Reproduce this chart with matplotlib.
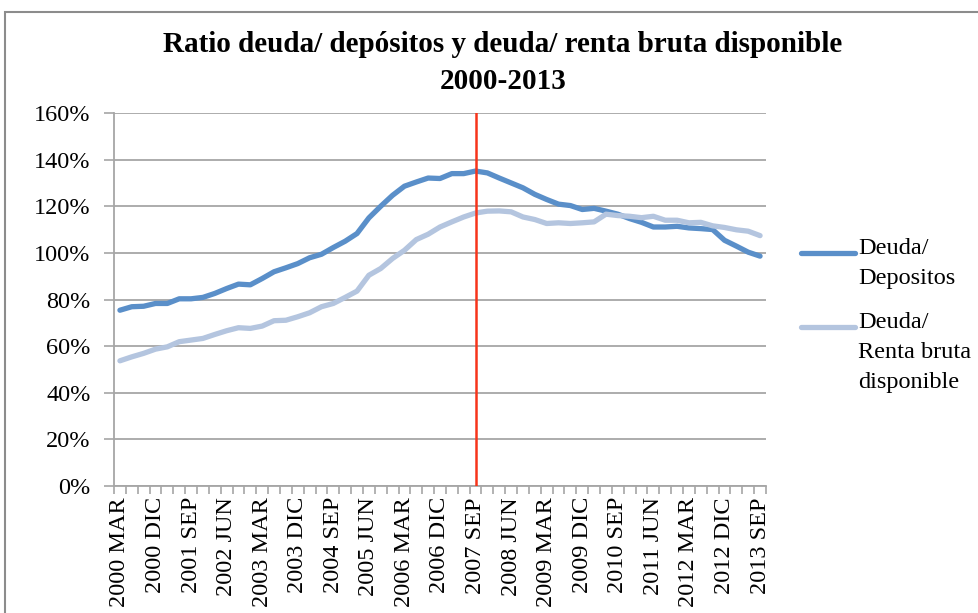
import matplotlib.pyplot as plt
import numpy as np
from matplotlib.lines import Line2D
from matplotlib.patches import Rectangle

plt.rcParams["font.family"] = ["Liberation Serif", "DejaVu Serif"]

# quarterly ratios (%), 2000 MAR .. 2013 SEP
deuda_depositos = [75.4, 76.9, 77.1, 78.3, 78.3, 80.3, 80.3, 80.9, 82.6, 84.7,
                   86.6, 86.3, 89.0, 91.9, 93.6, 95.4, 97.9, 99.4, 102.3, 105.0,
                   108.3, 115.0, 120.0, 124.7, 128.6, 130.4, 132.1, 131.9, 134.0, 134.0,
                   135.1, 134.3, 132.1, 130.0, 127.9, 125.1, 122.9, 120.9, 120.3, 118.6,
                   119.1, 117.9, 116.6, 114.7, 113.1, 111.1, 111.1, 111.4, 110.7, 110.4,
                   110.0, 105.4, 102.9, 100.3, 98.6]
deuda_renta = [53.7, 55.4, 56.9, 58.7, 59.7, 61.9, 62.6, 63.3, 65.0, 66.6,
               67.9, 67.6, 68.6, 70.9, 71.1, 72.6, 74.3, 76.9, 78.3, 80.9,
               83.6, 90.4, 93.3, 97.6, 101.1, 105.7, 108.0, 111.1, 113.3, 115.4,
               117.1, 117.9, 118.0, 117.6, 115.4, 114.3, 112.6, 112.9, 112.6, 112.9,
               113.3, 116.6, 116.0, 115.7, 115.1, 115.7, 114.0, 114.0, 112.9, 113.1,
               111.6, 110.9, 109.9, 109.3, 107.4]
tick_labels = ["2000 MAR", "2000 DIC", "2001 SEP", "2002 JUN", "2003 MAR",
               "2003 DIC", "2004 SEP", "2005 JUN", "2006 MAR", "2006 DIC",
               "2007 SEP", "2008 JUN", "2009 MAR", "2009 DIC", "2010 SEP",
               "2011 JUN", "2012 MAR", "2012 DIC", "2013 SEP"]
series_names = ["Deuda/\nDepositos", "Deuda/\nRenta bruta\ndisponible"]
series_colors = ["#5A8FC9", "#B4C5DF"]
marker_quarter = 30  # 2007 SEP

W, H = 979, 613
fig = plt.figure(figsize=(W / 100, H / 100), dpi=100)
ax = fig.add_axes([114 / W, 127 / H, 652 / W, 373 / H])

x = np.arange(len(deuda_depositos))
for vals, col in zip([deuda_depositos, deuda_renta], series_colors):
    ax.plot(x, vals, color=col, lw=3.8, solid_capstyle="round", zorder=3)
ax.axvline(marker_quarter, color="#F7341A", lw=1.8, zorder=4)

ax.set_xlim(-0.5, len(x) - 0.5)
ax.set_ylim(0, 160)
ax.set_yticks(np.arange(0, 161, 20))
ax.set_yticklabels([f"{v}%" for v in range(0, 161, 20)], fontsize=17.5)
ax.yaxis.grid(True, color="#A6A6A6", lw=1.3)
ax.set_axisbelow(True)

ax.set_xticks(np.arange(0, len(x), 3))
ax.set_xticklabels(tick_labels, rotation=90, fontsize=17.5)
ax.set_xticks(np.arange(-0.5, len(x), 1), minor=True)
ax.tick_params(axis="x", which="major", length=0, pad=8)
ax.tick_params(axis="x", which="minor", length=6, color="#A6A6A6", width=1.2)
ax.tick_params(axis="y", length=7, color="#A6A6A6", width=1.2, pad=10)

for s in ["top", "right"]:
    ax.spines[s].set_visible(False)
for s in ["left", "bottom"]:
    ax.spines[s].set_color("#A6A6A6")
    ax.spines[s].set_linewidth(1.3)

fig.text(503 / W, 1 - 63 / H, "Ratio deuda/ depósitos y deuda/ renta bruta disponible\n2000-2013",
         ha="center", va="center", fontsize=21, fontweight="bold", linespacing=1.45)

# legend: handle level with first text line
for name, col, ytop in zip(series_names, series_colors, [253, 327]):
    fig.add_artist(Line2D([801 / W, 855 / W], [1 - ytop / H] * 2, color=col, lw=3.8,
                          solid_capstyle="round"))
    fig.text(858 / W, 1 - (ytop - 15) / H, name, ha="left", va="top",
             fontsize=17.5, linespacing=1.55)

fig.add_artist(Rectangle((5 / W, -0.1), 1.2, 1 - 12 / H + 0.1, transform=fig.transFigure,
                         fill=False, edgecolor="#8C8C8C", lw=1.5))

fig.savefig("out.png", dpi=100)
